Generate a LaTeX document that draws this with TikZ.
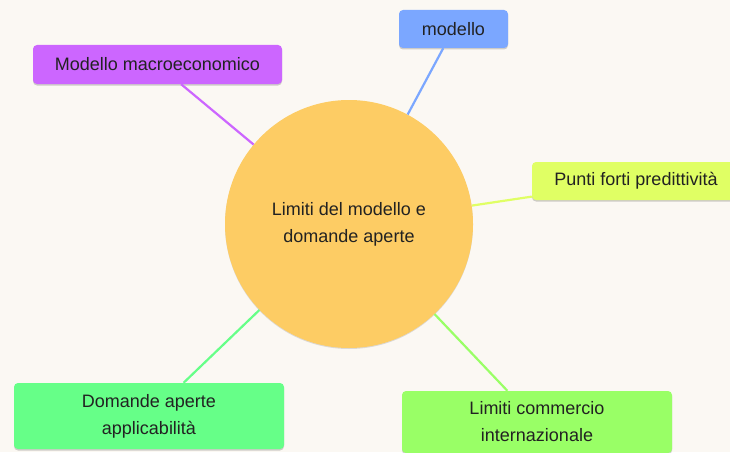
\documentclass[tikz,border=0pt]{standalone}
\usepackage{fontspec}
\setmainfont{Liberation Sans}
\usetikzlibrary{shadows}
\definecolor{bg}{HTML}{FBF8F3}
\definecolor{hub}{HTML}{FDCC64}
\definecolor{cpurple}{HTML}{CC66FF}
\definecolor{cblue}{HTML}{7BA7FF}
\definecolor{cyellow}{HTML}{E0FF64}
\definecolor{cgreenL}{HTML}{66FF88}
\definecolor{cgreenR}{HTML}{99FF66}
\definecolor{ink}{HTML}{222222}
\tikzset{
  leaf/.style={rectangle, rounded corners=4pt, inner sep=0pt, align=center,
    text=ink, font=\fontsize{18}{27}\selectfont,
    drop shadow={shadow xshift=0pt, shadow yshift=-1.5pt, opacity=0.18, fill=black}},
  hubnode/.style={circle, minimum size=248pt, inner sep=0pt, align=center, fill=hub,
    text=ink, font=\fontsize{18}{27}\selectfont,
    drop shadow={shadow xshift=0pt, shadow yshift=-1pt, opacity=0.12, fill=black}},
  link/.style={line width=2.2pt}
}
\begin{document}
\begin{tikzpicture}[x=1pt,y=-1pt]
\useasboundingbox (0,0) rectangle (730,452);
\fill[bg] (0,0) rectangle (730,452);
\clip (0,0) rectangle (730,452);
\node[hubnode] (hub) at (349,224) {Limiti del modello e\\domande aperte};
\node[leaf, fill=cpurple, minimum width=249pt, minimum height=39pt] (macro) at (157.5,64.5) {Modello macroeconomico};
\node[leaf, fill=cblue, minimum width=109pt, minimum height=38pt] (mod) at (453.5,29) {modello};
\node[leaf, fill=cyellow, minimum width=208pt, minimum height=38pt] (punti) at (636,181) {Punti forti predittività};
\node[leaf, fill=cgreenL, minimum width=270pt, minimum height=66pt] (dom) at (149,416) {Domande aperte\\applicabilità};
\node[leaf, fill=cgreenR, minimum width=270pt, minimum height=62pt] (lim) at (537,422) {Limiti commercio\\internazionale};
\draw[link, cpurple] (macro) -- (hub);
\draw[link, cblue] (mod) -- (hub);
\draw[link, cyellow] (punti) -- (hub);
\draw[link, cgreenL] (dom) -- (hub);
\draw[link, cgreenR] (lim) -- (hub);
\end{tikzpicture}
\end{document}
